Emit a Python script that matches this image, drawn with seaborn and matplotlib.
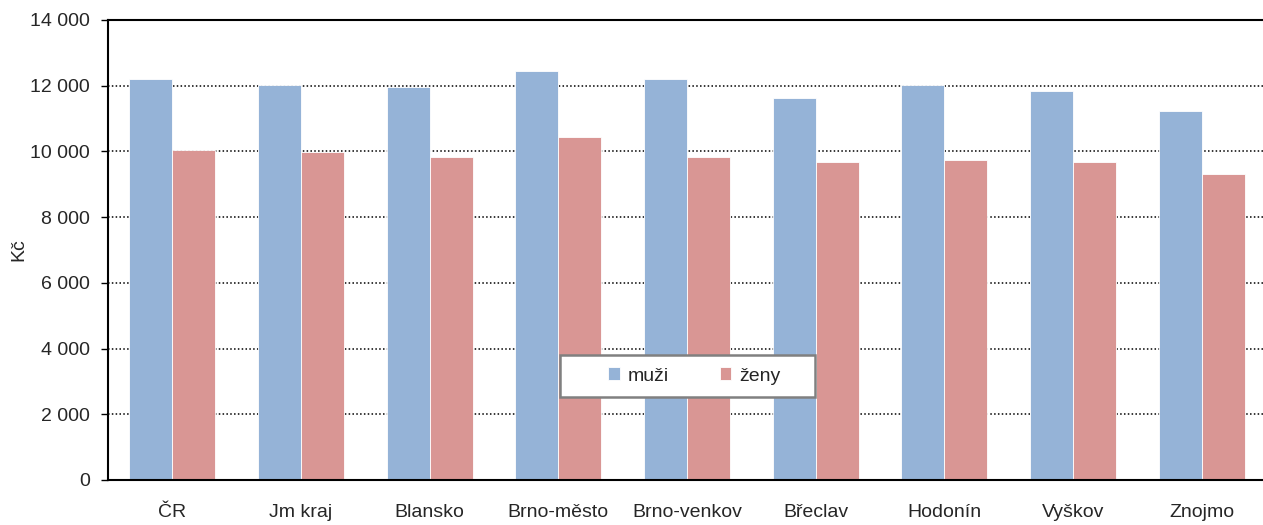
import matplotlib
matplotlib.use("Agg")
import matplotlib.pyplot as plt
from matplotlib.patches import Rectangle
import seaborn as sns
import pandas as pd
import numpy as np

categories = ["ČR", "Jm kraj", "Blansko", "Brno-město", "Brno-venkov", "Břeclav", "Hodonín", "Vyškov", "Znojmo"]
muzi = [12200, 12020, 11960, 12440, 12200, 11640, 12020, 11830, 11230]
zeny = [10030, 9970, 9840, 10450, 9840, 9670, 9730, 9670, 9300]
series = ["muži", "ženy"]
yticks = [0, 2000, 4000, 6000, 8000, 10000, 12000, 14000]

df = pd.DataFrame({
    "cat": categories * 2,
    "val": muzi + zeny,
    "ser": [series[0]] * len(categories) + [series[1]] * len(categories),
})

sns.set_theme(style="white")
plt.rcParams['font.family'] = ['Liberation Sans', 'DejaVu Sans']

fig = plt.figure(figsize=(12.63, 5.25), dpi=100)
ax = fig.add_axes([108/1263, 45/525, 1158/1263, 460/525])

sns.barplot(data=df, x="cat", y="val", hue="ser", order=categories, hue_order=series,
            palette=["#95B3D7", "#D99694"], width=0.67, gap=0, ax=ax,
            edgecolor="white", linewidth=0.6, saturation=1, errorbar=None)

ax.set_ylim(0, 14000)
ax.set_xlim(-0.5, len(categories) - 0.5)
ax.set_yticks(yticks)
ax.set_yticklabels([f"{v:,}".replace(",", " ") for v in yticks], fontsize=14)
ax.set_xlabel("")
ax.set_ylabel("Kč", fontsize=14, labelpad=2)
ax.tick_params(axis="x", which="major", length=0, labelsize=14, pad=17)
ax.set_xticks(np.arange(-0.5, len(categories), 1.0), minor=True)
ax.tick_params(axis="x", which="minor", length=5, width=1, color="black", direction="out")
ax.tick_params(axis="y", length=5, width=1, color="black", direction="out", left=True, pad=8)

for v in yticks[1:-1]:
    ax.axhline(v, color="black", linestyle=(0, (1, 1.5)), linewidth=1.1, zorder=0.5)

for s in ["left", "bottom", "top"]:
    ax.spines[s].set_visible(True)
    ax.spines[s].set_color("black")
    ax.spines[s].set_linewidth(1.5)
ax.spines["right"].set_visible(False)

# legend frame
bx0, bx1 = (560 - 108) / 1158, (815 - 108) / 1158
by0, by1 = (480 - 397) / 460, (480 - 355) / 460
ax.add_patch(Rectangle((bx0, by0), bx1 - bx0, by1 - by0, transform=ax.transAxes,
                       facecolor="white", edgecolor="#808080", linewidth=1.8, zorder=4))
leg = ax.legend(loc="center", bbox_to_anchor=((bx0 + bx1) / 2 + 0.006, (by0 + by1) / 2), ncol=2,
                fontsize=14, frameon=False, handlelength=0.6, handleheight=0.6,
                columnspacing=2.6, borderpad=0.3, handletextpad=0.4, borderaxespad=0)
leg.set_zorder(5)
ax.set_axisbelow(False)

fig.savefig("out.png", dpi=100)
